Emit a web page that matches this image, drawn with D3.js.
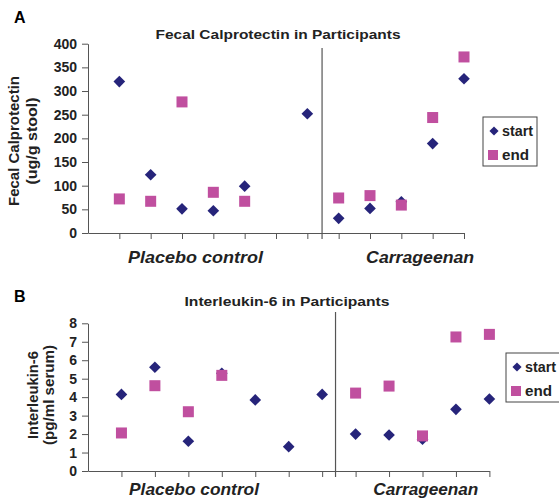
<!DOCTYPE html>
<html><head><meta charset="utf-8">
<script src="https://cdn.jsdelivr.net/npm/d3@7"></script>
<style>
html,body{margin:0;padding:0;background:#fff;}
svg{display:block;font-family:"Liberation Sans",Arial,sans-serif;}
</style></head>
<body>
<svg id="c" width="559" height="498"></svg>
<script>
// ---- data ----
const positions = [1,2,3,4,5,6,7,8,9,10,11,12];
const groupLabels = ["Placebo control", "Carrageenan"];
const seriesNames = ["start", "end"];

const calStart = [320, 123, 51, 47, 99, null, 252, 31, 52, 66, 189, 326];
const calEnd   = [72, 67, 277, 86, 67, null, null, 74, 79, 59, 244, 372];
const calTicks = [0, 50, 100, 150, 200, 250, 300, 350, 400];

const il6Start = [4.15, 5.62, 1.61, 5.29, 3.85, 1.32, 4.15, 2.0, 1.95, 1.72, 3.34, 3.9];
const il6End   = [2.06, 4.62, 3.21, 5.18, null, null, null, 4.22, 4.6, 1.9, 7.26, 7.4];
const il6Ticks = [0, 1, 2, 3, 4, 5, 6, 7, 8];

const startColor = "#26247a";
const endColor = "#c04f9f";
const axisColor = "#555";

const svg = d3.select("#c");

function panel(cfg) {
  const g = svg.append("g");
  const x = d3.scaleLinear().domain([0, 12]).range([cfg.left, cfg.right]);
  const y = d3.scaleLinear().domain([cfg.ticks[0], cfg.ticks[cfg.ticks.length-1]]).range([cfg.bottom, cfg.top]);

  // panel letter
  g.append("text").attr("x", 14).attr("y", cfg.letterY).attr("font-size", 16).attr("font-weight", "bold").text(cfg.letter);
  // title
  g.append("text").attr("x", cfg.titleX).attr("y", cfg.titleY).attr("text-anchor", "middle")
    .attr("font-size", 12.5).attr("font-weight", "bold").attr("fill", "#222")
    .attr("textLength", cfg.titleLen).attr("lengthAdjust", "spacingAndGlyphs").text(cfg.title);

  // y axis
  const ya = g.append("g").attr("transform", `translate(${cfg.left},0)`)
    .call(d3.axisLeft(y).tickValues(cfg.ticks).tickSize(6).tickPadding(5).tickSizeOuter(0));
  ya.select(".domain").attr("stroke", axisColor);
  ya.selectAll(".tick line").attr("stroke", axisColor);
  ya.selectAll(".tick text").attr("font-size", 14).attr("font-weight", "bold").attr("fill", "#222")
    .attr("font-family", "Liberation Sans, Arial, sans-serif");

  // x axis
  const xa = g.append("g").attr("transform", `translate(0,${cfg.bottom})`)
    .call(d3.axisBottom(x).tickValues(positions).tickSize(6).tickSizeOuter(0).tickFormat(""));
  xa.select(".domain").attr("stroke", axisColor);
  xa.selectAll(".tick line").attr("stroke", axisColor);

  // separator
  g.append("line").attr("x1", x(cfg.sep)).attr("x2", x(cfg.sep))
    .attr("y1", cfg.sepTop).attr("y2", cfg.bottom + 6).attr("stroke", axisColor).attr("stroke-width", 1.2);

  // y label
  const yl = g.append("text").attr("transform", `translate(${cfg.ylabX},${cfg.ylabY}) rotate(-90)`)
    .attr("text-anchor", "middle").attr("font-size", 14).attr("font-weight", "bold").attr("fill", "#222");
  yl.append("tspan").attr("x", 0).attr("y", 0).attr("textLength", cfg.ylabLen[0]).attr("lengthAdjust", "spacingAndGlyphs").text(cfg.ylab1);
  yl.append("tspan").attr("x", 0).attr("y", cfg.ylabGap).attr("textLength", cfg.ylabLen[1]).attr("lengthAdjust", "spacingAndGlyphs").text(cfg.ylab2);

  // group labels
  groupLabels.forEach((t, i) => {
    g.append("text").attr("x", x(cfg.groupX[i])).attr("y", cfg.groupY).attr("text-anchor", "middle")
      .attr("font-size", 16.5).attr("font-weight", "bold").attr("font-style", "italic").attr("fill", "#222")
      .attr("textLength", cfg.groupLen[i]).attr("lengthAdjust", "spacingAndGlyphs").text(t);
  });

  const diamond = d3.symbol().type(d3.symbolSquare).size(68);
  // start diamonds
  g.selectAll(".s").data(positions.map((p, i) => [p, cfg.start[i]]).filter(d => d[1] != null))
    .enter().append("path").attr("d", diamond)
    .attr("transform", d => `translate(${x(d[0])},${y(d[1])}) rotate(45)`)
    .attr("fill", startColor);
  // end squares
  g.selectAll(".e").data(positions.map((p, i) => [p, cfg.end[i]]).filter(d => d[1] != null))
    .enter().append("rect")
    .attr("x", d => x(d[0]) - 5.5).attr("y", d => y(d[1]) - 5.5)
    .attr("width", 11).attr("height", 11).attr("fill", endColor);

  // legend
  const L = cfg.legend;
  g.append("rect").attr("x", L.x).attr("y", L.y).attr("width", L.w).attr("height", L.h)
    .attr("fill", "#fff").attr("stroke", "#444").attr("stroke-width", 1);
  g.append("path").attr("d", d3.symbol().type(d3.symbolSquare).size(42))
    .attr("transform", `translate(${L.x + 11},${L.y + 14}) rotate(45)`).attr("fill", startColor);
  g.append("rect").attr("x", L.x + 5).attr("y", L.y + 33).attr("width", 10).attr("height", 10).attr("fill", endColor);
  g.append("text").attr("x", L.x + 19).attr("y", L.y + 19).attr("font-size", 14).attr("font-weight", "bold").attr("fill", "#222")
    .attr("textLength", 31).attr("lengthAdjust", "spacingAndGlyphs").text(seriesNames[0]);
  g.append("text").attr("x", L.x + 19).attr("y", L.y + 43).attr("font-size", 14).attr("font-weight", "bold").attr("fill", "#222")
    .attr("textLength", 27).attr("lengthAdjust", "spacingAndGlyphs").text(seriesNames[1]);
}

panel({
  letter: "A", letterY: 23,
  title: "Fecal Calprotectin in Participants", titleX: 278, titleY: 39, titleLen: 245,
  left: 88, right: 464, top: 43.7, bottom: 233,
  ticks: calTicks, start: calStart, end: calEnd,
  sep: 7.47, sepTop: 48,
  ylab1: "Fecal Calprotectin", ylab2: "(ug/g stool)", ylabX: 19, ylabY: 141, ylabGap: 17.5, ylabLen: [130, 87],
  groupX: [3.43, 10.6], groupY: 263, groupLen: [135, 108],
  legend: {x: 483, y: 117, w: 54, h: 49}
});

panel({
  letter: "B", letterY: 302,
  title: "Interleukin-6 in Participants", titleX: 287, titleY: 306, titleLen: 205,
  left: 88, right: 489.4, top: 323.3, bottom: 471,
  ticks: il6Ticks, start: il6Start, end: il6End,
  sep: 7.4, sepTop: 312,
  ylab1: "Interleukin-6", ylab2: "(pg/ml serum)", ylabX: 38, ylabY: 395, ylabGap: 16, ylabLen: [88, 100],
  groupX: [3.17, 10.1], groupY: 495, groupLen: [130, 105],
  legend: {x: 506, y: 353, w: 54, h: 49}
});
</script>
</body></html>
